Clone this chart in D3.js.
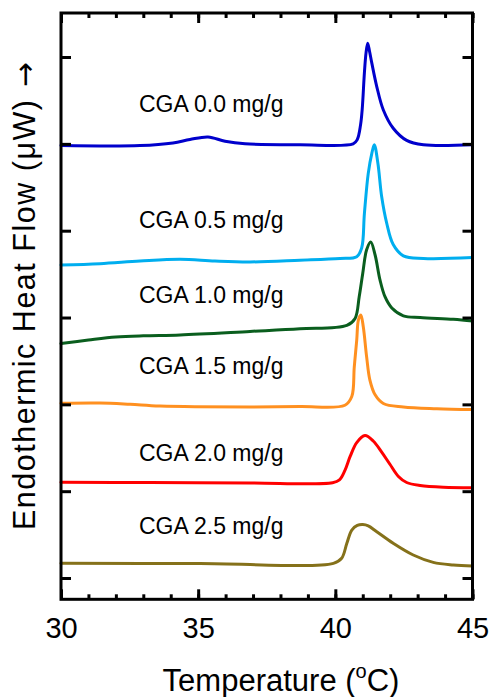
<!DOCTYPE html>
<html><head><meta charset="utf-8">
<script src="https://cdn.jsdelivr.net/npm/d3@7"></script>
<style>body{margin:0;background:#fff}svg{display:block}text{font-family:"Liberation Sans",Arial,Helvetica,sans-serif;fill:#000}</style>
</head><body><svg id="c" width="491" height="697"></svg>
<script>
// ---- data (temperature in °C, heat flow in arbitrary offset units) ----
const seriesNames = ["CGA 0.0 mg/g","CGA 0.5 mg/g","CGA 1.0 mg/g","CGA 1.5 mg/g","CGA 2.0 mg/g","CGA 2.5 mg/g"];
const cga00 = [[30,4.98],[32.88,4.98],[34.08,5.01],[34.70,5.05],[35.36,5.08],[35.98,5.03],[36.71,5.00],[38.71,4.99],[40.65,5.00],[40.80,5.05],[40.92,5.22],[40.98,5.40],[41.06,5.82],[41.12,6.05],[41.18,6.16],[41.25,6.06],[41.33,5.93],[41.51,5.66],[41.75,5.39],[42.11,5.18],[42.60,5.04],[43.21,4.99],[45,4.99]];
const cga05 = [[30,3.605],[31.42,3.62],[32.88,3.65],[34.34,3.67],[35.61,3.65],[36.89,3.64],[38.71,3.66],[40.17,3.68],[40.78,3.70],[40.96,3.80],[41.06,4.20],[41.20,4.66],[41.33,4.89],[41.42,4.99],[41.55,4.78],[41.69,4.39],[41.87,4.09],[42.11,3.84],[42.48,3.71],[43.21,3.68],[45,3.69]];
const cga10 = [[30,2.70],[31,2.74],[32,2.775],[33,2.79],[34.34,2.80],[36.89,2.84],[38.71,2.87],[40.42,2.91],[40.72,2.99],[40.87,3.24],[41.00,3.51],[41.14,3.78],[41.29,3.87],[41.45,3.72],[41.63,3.43],[41.81,3.24],[42.06,3.11],[42.48,3.02],[43.09,3.00],[44.30,2.98],[45,2.96]];
const cga15 = [[30,2.012],[31.42,2.015],[32.52,2.00],[33.61,1.98],[36.89,1.97],[38.71,1.975],[40.35,1.99],[40.60,2.09],[40.69,2.43],[40.78,2.74],[40.84,2.97],[40.93,3.03],[41.02,2.89],[41.14,2.55],[41.26,2.28],[41.45,2.11],[41.75,2.01],[42.48,1.97],[43.70,1.95],[45,1.94]];
const cga20 = [[30,1.102],[33.24,1.10],[36.89,1.094],[39.9,1.098],[40.15,1.13],[40.35,1.24],[40.54,1.40],[40.78,1.56],[41.08,1.64],[41.39,1.575],[41.69,1.45],[41.99,1.31],[42.30,1.17],[42.60,1.10],[43.09,1.065],[43.94,1.045],[45,1.04]];
const cga25 = [[30,0.169],[35.07,0.167],[39.93,0.169],[40.23,0.227],[40.42,0.40],[40.60,0.553],[40.80,0.605],[41.0,0.615],[41.2,0.60],[41.51,0.533],[42.11,0.40],[42.84,0.265],[43.57,0.18],[44.30,0.15],[45,0.138]];
const xTickValues = [30,35,40,45];
const xMinorTicks = [30,31,32,33,34,35,36,37,38,39,40,41,42,43,44,45];
const yTicks = [0,1,2,3,4,5,6];

// ---- styles / layout ----
const colors = ["#0000cc","#00aeef","#0a5e1e","#ff9020","#ff0000","#85711a"];
const labelPos = [[139,112],[139,228],[139,303],[139,374],[139,461],[139,534]];
const allSeries = [cga00,cga05,cga10,cga15,cga20,cga25];

const svg = d3.select("#c");
svg.append("rect").attr("width",491).attr("height",697).attr("fill","#fff");
const L=61,R=472.5,T=13,B=599.3;
const x = d3.scaleLinear().domain([30,45]).range([L,R]);
const y = d3.scaleLinear().domain([-0.245,6.507]).range([B,T]);

const line = d3.line().x(d=>x(d[0])).y(d=>y(d[1])).curve(d3.curveCatmullRom.alpha(0.5));
allSeries.forEach((s,i)=>{
  svg.append("path").attr("d",line(s)).attr("fill","none").attr("stroke",colors[i])
    .attr("stroke-width",3).attr("stroke-linejoin","round").attr("stroke-linecap","round");
});

seriesNames.forEach((n,i)=>{
  svg.append("text").attr("x",labelPos[i][0]).attr("y",labelPos[i][1]).attr("font-size",23).text(n);
});

// axes
const g = svg.append("g");
const sw=3;
function style(a){a.select(".domain").remove();a.selectAll("line").attr("stroke","#000").attr("stroke-width",sw);}
g.append("g").attr("transform",`translate(0,${B})`)
  .call(d3.axisBottom(x).tickValues(xTickValues).tickSize(-10).tickPadding(18).tickFormat(d3.format("d")))
  .call(style)
  .call(a=>a.selectAll("text").attr("font-size",29).attr("font-family","Liberation Sans, Arial, sans-serif"));
g.append("g").attr("transform",`translate(0,${B})`)
  .call(d3.axisBottom(x).tickValues(xMinorTicks).tickSize(-5).tickFormat("")).call(style);
g.append("g").attr("transform",`translate(0,${T})`)
  .call(d3.axisTop(x).tickValues(xTickValues).tickSize(-10).tickFormat("")).call(style);
g.append("g").attr("transform",`translate(0,${T})`)
  .call(d3.axisTop(x).tickValues(xMinorTicks).tickSize(-5).tickFormat("")).call(style);
g.append("g").attr("transform",`translate(${L},0)`)
  .call(d3.axisLeft(y).tickValues(yTicks).tickSize(-10).tickFormat("")).call(style);
g.append("g").attr("transform",`translate(${R},0)`)
  .call(d3.axisRight(y).tickValues(yTicks).tickSize(-10).tickFormat("")).call(style);
g.append("rect").attr("x",L).attr("y",T).attr("width",R-L).attr("height",B-T)
  .attr("fill","none").attr("stroke","#000").attr("stroke-width",sw);

// titles
const xt = svg.append("text").attr("x",281).attr("y",691).attr("text-anchor","middle").attr("font-size",31);
xt.append("tspan").text("Temperature (");
xt.append("tspan").attr("font-size",20).attr("dy",-13).text("o");
xt.append("tspan").attr("dy",13).text("C)");

const yt = svg.append("text").attr("transform","translate(35,530) rotate(-90)").attr("font-size",30.5)
  .attr("textLength",430).attr("lengthAdjust","spacing");
yt.append("tspan").text("Endothermic Heat Flow (");
yt.append("tspan").text("\u03bc");
yt.append("tspan").text("W)");
svg.append("text").attr("transform","translate(35,62) rotate(-90)").attr("text-anchor","end")
  .attr("font-size",30).style("font-family","'DejaVu Sans', sans-serif").style("fill","#000").text("\u2192");
</script></body></html>
